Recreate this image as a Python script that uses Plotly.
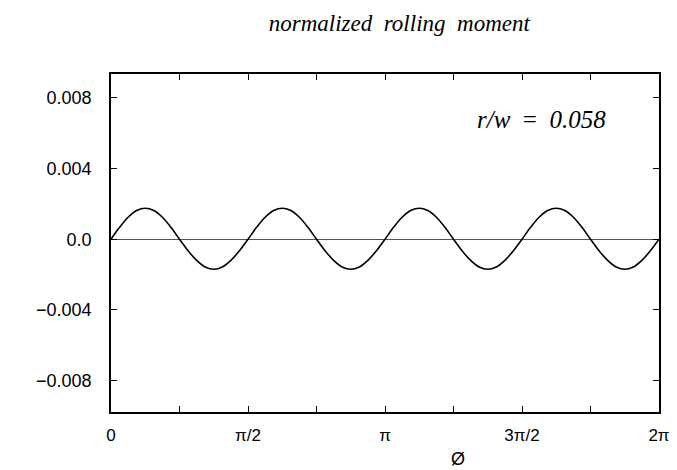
import math
import plotly.graph_objects as go

phi_values = [k * math.pi / 32 for k in range(65)]
moment_values = [
    0.0, 0.00067, 0.00124, 0.00162, 0.00175, 0.00162, 0.00124, 0.00067,
    0.0, -0.00065, -0.0012, -0.00157, -0.0017, -0.00157, -0.0012, -0.00065,
    0.0, 0.00067, 0.00124, 0.00162, 0.00175, 0.00162, 0.00124, 0.00067,
    0.0, -0.00065, -0.0012, -0.00157, -0.0017, -0.00157, -0.0012, -0.00065,
    0.0, 0.00067, 0.00124, 0.00162, 0.00175, 0.00162, 0.00124, 0.00067,
    0.0, -0.00065, -0.0012, -0.00157, -0.0017, -0.00157, -0.0012, -0.00065,
    0.0, 0.00067, 0.00124, 0.00162, 0.00175, 0.00162, 0.00124, 0.00067,
    0.0, -0.00065, -0.0012, -0.00157, -0.0017, -0.00157, -0.0012, -0.00065,
    0.0,
]
x_tick_values = [k * math.pi / 4 for k in range(9)]
x_tick_text = ["0", "", "π/2", "", "π", "", "3π/2", "", "2π"]
y_tick_values = [0.008, 0.004, 0.0, -0.004, -0.008]
y_tick_text = ["0.008", "0.004", "0.0", "−0.004", "−0.008"]

fig = go.Figure()
fig.add_trace(go.Scatter(
    x=phi_values, y=moment_values, mode="lines",
    line=dict(color="black", width=1.6, shape="spline", smoothing=1.0),
    showlegend=False, hoverinfo="skip",
))

fig.update_layout(
    width=677, height=470,
    margin=dict(l=103, r=26, t=66, b=66),
    paper_bgcolor="white", plot_bgcolor="white",
    title=dict(
        text="<i>normalized  rolling  moment</i>",
        x=0.578, xanchor="center", y=0.968, yanchor="middle",
        font=dict(family="Liberation Serif", size=23, color="black"),
    ),
    xaxis=dict(
        range=[0, 2 * math.pi], tickmode="array",
        tickvals=x_tick_values, ticktext=x_tick_text,
        ticks="inside", ticklen=6, tickwidth=1, tickcolor="black",
        showline=True, linecolor="black", linewidth=1.6, mirror="allticks",
        showgrid=False, zeroline=False,
        tickfont=dict(family="Liberation Sans", size=17, color="black"),
        ticklabelstandoff=7,
    ),
    yaxis=dict(
        range=[-0.00978, 0.00935], tickmode="array",
        tickvals=y_tick_values, ticktext=y_tick_text,
        ticks="inside", ticklen=6, tickwidth=1, tickcolor="black",
        showline=True, linecolor="black", linewidth=1.6, mirror="allticks",
        showgrid=False, zeroline=True, zerolinecolor="#555555", zerolinewidth=1,
        tickfont=dict(family="Liberation Sans", size=18, color="black"),
        ticklabelstandoff=14,
    ),
    annotations=[
        dict(text="Ø", x=0.633, y=-0.14, xref="paper", yref="paper",
             showarrow=False, xanchor="center", yanchor="middle",
             font=dict(family="Liberation Sans", size=18, color="black")),
        dict(text="<i>r/w</i>  =  <i>0.058</i>", x=0.786, y=0.864,
             xref="paper", yref="paper", showarrow=False,
             xanchor="center", yanchor="middle",
             font=dict(family="Liberation Serif", size=25, color="black")),
    ],
)

fig.write_html("out.html")
